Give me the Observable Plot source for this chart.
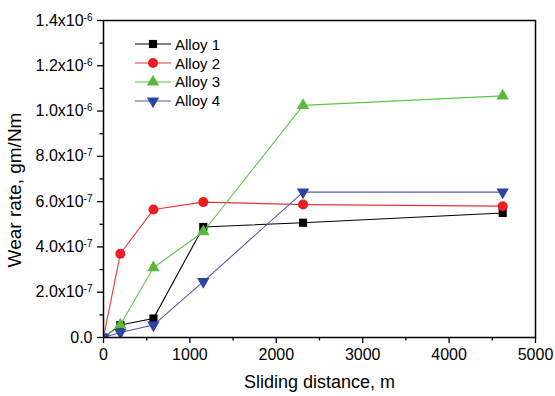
<!DOCTYPE html>
<html><head><meta charset="utf-8">
<script src="https://cdn.jsdelivr.net/npm/d3@7"></script>
<script src="https://cdn.jsdelivr.net/npm/@observablehq/plot@0.6"></script>
<style>
body{margin:0;background:#fff;}
#chart{position:relative;width:555px;height:396px;font-family:"Liberation Sans",Arial,sans-serif;}
#legend{position:absolute;left:134px;top:35px;font-size:15px;color:#000;}
.row{display:flex;align-items:center;height:18.8px;}
.row svg{display:block;margin-right:3px;}
</style></head><body><div id="chart"><div id="legend"></div></div>
<script>
const distance = [0, 195, 578, 1155, 2310, 4620];
const alloy1 = [0, 5.5e-8, 8.4e-8, 4.88e-7, 5.07e-7, 5.5e-7];
const alloy2 = [0, 3.7e-7, 5.65e-7, 5.98e-7, 5.87e-7, 5.8e-7];
const alloy3 = [0, 5.6e-8, 3.08e-7, 4.67e-7, 1.025e-6, 1.067e-6];
const alloy4 = [0, 2.2e-8, 5.5e-8, 2.47e-7, 6.42e-7, 6.42e-7];
const seriesNames = ["Alloy 1", "Alloy 2", "Alloy 3", "Alloy 4"];
const seriesValues = [alloy1, alloy2, alloy3, alloy4];
const lineColors = ["#000000", "#e8333a", "#5cc447", "#5559b0"];
const markColors = ["#000000", "#ee1c24", "#5ab93c", "#2a44a8"];
const xTicks = [0, 1000, 2000, 3000, 4000, 5000];
const xMinor = [500, 1500, 2500, 3500, 4500];
const yTicks = [0, 2e-7, 4e-7, 6e-7, 8e-7, 1.0e-6, 1.2e-6, 1.4e-6];
const yMinor = [1e-7, 3e-7, 5e-7, 7e-7, 9e-7, 1.1e-6, 1.3e-6];
const xTitle = "Sliding distance, m";
const yTitle = "Wear rate, gm/Nm";

const triangleDown = {
  draw(context, size) {
    const y = -Math.sqrt(size / (Math.sqrt(3) * 3));
    context.moveTo(0, -y * 2);
    context.lineTo(-Math.sqrt(3) * y, y);
    context.lineTo(Math.sqrt(3) * y, y);
    context.closePath();
  }
};
const symbols = ["square", "circle", "triangle", triangleDown];
const radii = [4.6, 5, 4.6, 4.6];

const rows = [];
seriesNames.forEach((s, i) => distance.forEach((d, j) => rows.push({series: s, idx: i, x: d, y: seriesValues[i][j]})));

function fmt(v) {
  if (v === 0) return "0.0";
  const e = Math.floor(Math.log10(v) + 1e-9);
  const m = v / Math.pow(10, e);
  return m.toFixed(1) + "x10^" + e;
}

const marks = [];
seriesNames.forEach((s, i) => {
  const data = rows.filter(r => r.idx === i);
  marks.push(Plot.line(data, {x: "x", y: "y", stroke: lineColors[i], strokeWidth: 1.1, clip: true}));
  marks.push(Plot.dot(data, {x: "x", y: "y", symbol: () => s, fill: markColors[i], stroke: "none", r: radii[i], clip: true}));
});

const chart = Plot.plot({
  width: 555, height: 396,
  marginLeft: 103, marginRight: 20, marginTop: 20, marginBottom: 59,
  style: {fontFamily: "Liberation Sans, Arial, sans-serif", fontSize: "16px", color: "#000", background: "#fff"},
  x: {domain: [0, 5000]},
  y: {domain: [0, 1.4e-6]},
  symbol: {domain: seriesNames, range: symbols},
  marks: [
    ...marks,
    Plot.frame({stroke: "#000", strokeWidth: 1.5}),
    Plot.axisX(xTicks, {tickSize: 6, tickPadding: 5, fontSize: 16, strokeWidth: 1.3, label: null, tickFormat: d => String(d)}),
    Plot.axisX(xMinor, {tickSize: 3.5, text: null, strokeWidth: 1.3, label: null}),
    Plot.axisY(yTicks, {tickSize: 6, tickPadding: 5, fontSize: 16, strokeWidth: 1.3, label: null, tickFormat: fmt}),
    Plot.axisY(yMinor, {tickSize: 3.5, text: null, strokeWidth: 1.3, label: null}),
    Plot.text([xTitle], {frameAnchor: "bottom", dy: 50, fontSize: 18, text: d => d}),
    Plot.text([yTitle], {frameAnchor: "left", dx: -89, dy: 11, rotate: -90, textAnchor: "middle", fontSize: 19, text: d => d})
  ]
});

chart.querySelectorAll('g[aria-label="y-axis tick label"] text').forEach(t => {
  const s = t.textContent;
  const k = s.indexOf("^");
  if (k >= 0) {
    const base = s.slice(0, k), exp = s.slice(k + 1);
    t.textContent = base;
    const ts = document.createElementNS("http://www.w3.org/2000/svg", "tspan");
    ts.setAttribute("dy", "-0.5em");
    ts.setAttribute("font-size", "10");
    ts.textContent = exp;
    t.appendChild(ts);
  }
});

const holder = document.getElementById("chart");
holder.insertBefore(chart, holder.firstChild);

const legend = document.getElementById("legend");
seriesNames.forEach((s, i) => {
  const row = document.createElement("div");
  row.className = "row";
  const sv = d3.create("svg").attr("width", 38).attr("height", 14);
  sv.append("line").attr("x1", 1).attr("x2", 37).attr("y1", 7).attr("y2", 7).attr("stroke", lineColors[i]).attr("stroke-width", 1.1);
  const symType = [d3.symbolSquare, d3.symbolCircle, d3.symbolTriangle, triangleDown][i];
  sv.append("path").attr("transform", "translate(19,7)").attr("d", d3.symbol(symType, Math.PI * radii[i] * radii[i])()).attr("fill", markColors[i]);
  row.appendChild(sv.node());
  const label = document.createElement("span");
  label.textContent = s;
  row.appendChild(label);
  legend.appendChild(row);
});
</script></body></html>
